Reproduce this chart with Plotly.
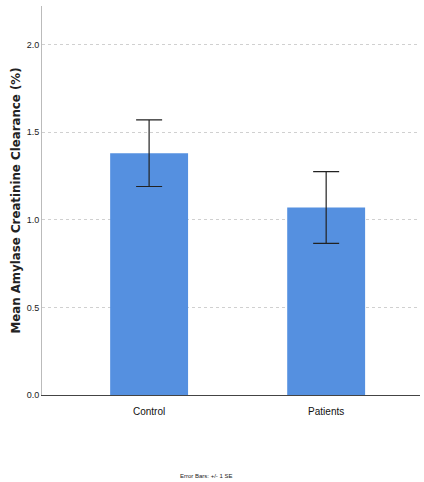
import plotly.graph_objects as go

categories = ["Control", "Patients"]
means = [1.38, 1.07]
se = [0.19, 0.205]
y_ticks = [0.0, 0.5, 1.0, 1.5, 2.0]
y_tick_labels = ["0.0", "0.5", "1.0", "1.5", "2.0"]

fig = go.Figure()
fig.add_trace(go.Bar(
    x=categories, y=means,
    marker=dict(color="#5590e0", line=dict(width=0)),
    width=0.44,
    error_y=dict(type="data", array=se, visible=True, color="#222222", thickness=1.2, width=13),
))

fig.update_layout(
    width=424, height=482,
    margin=dict(l=42, r=4, t=6, b=87, autoexpand=False),
    paper_bgcolor="white", plot_bgcolor="white",
    showlegend=False,
    font=dict(family="Liberation Sans Narrow, Liberation Sans, Arial", color="#222222"),
    xaxis=dict(
        range=[-0.605, 1.53], automargin=False,
        showline=True, linecolor="#444444", linewidth=1,
        ticks="", showgrid=False, ticklabelstandoff=7,
        tickfont=dict(size=10, family="Liberation Sans Narrow, Arial", color="#111111"),
    ),
    yaxis=dict(
        range=[0, 2.22], automargin=False,
        tickvals=y_ticks, ticktext=y_tick_labels,
        showline=True, linecolor="#bbbbbb", linewidth=1,
        ticks="", zeroline=False,
        showgrid=True, gridcolor="#d0d0d0", griddash="dot", gridwidth=1,
        tickfont=dict(size=9, family="Liberation Sans Narrow, Arial"),
        title=dict(text="<b>Mean Amylase Creatinine Clearance (%)</b>",
                   font=dict(size=11.8, family="DejaVu Sans, Arial"), standoff=3),
    ),
    annotations=[dict(
        text="Error Bars: +/- 1 SE", x=0.434, xref="paper",
        yref="paper", y=-(476 - 395) / 389, yanchor="middle",
        showarrow=False, font=dict(size=6, family="Liberation Sans Narrow, Arial"),
    )],
)

fig.write_html("out.html", post_script="document.body.style.margin='0';",
               config={"displayModeBar": False})
